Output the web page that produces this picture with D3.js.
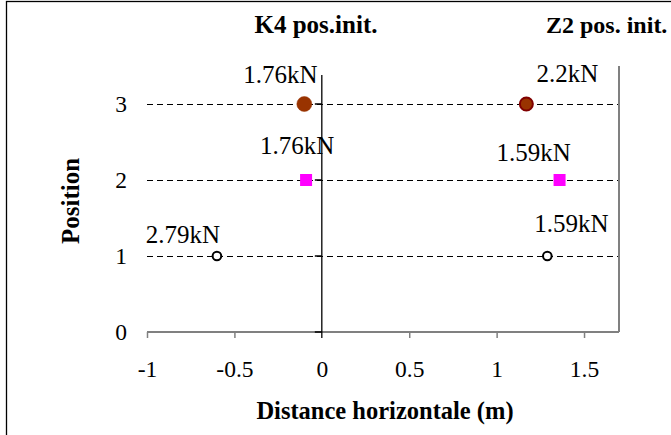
<!DOCTYPE html>
<html>
<head>
<meta charset="utf-8">
<script src="https://cdn.jsdelivr.net/npm/d3@7"></script>
<style>
  html, body { margin: 0; padding: 0; background: #fff; }
  svg { display: block; }
  svg text { font-family: "Liberation Serif", "Times New Roman", serif !important; fill: #000; }
</style>
</head>
<body>
<svg id="chart" width="671" height="435" font-family="Liberation Serif, serif"></svg>
<script>
// Measured positions (one series per position level)
const positions = [1, 2, 3];
const k4Distance = [-0.6, -0.09, -0.1];
const k4Force = [2.79, 1.76, 1.76];
const z2Distance = [1.29, 1.36, 1.17];
const z2Force = [1.59, 1.59, 2.2];
const groupTitles = ["K4 pos.init.", "Z2 pos. init."];
const xTicks = [-1, -0.5, 0, 0.5, 1, 1.5];
const yTicks = [0, 1, 2, 3];
const xTitle = "Distance horizontale (m)";
const yTitle = "Position";

// Label nudges (px) for each force label: [K4, Z2] per position
const labelOffsets = [
  [[-34, -13], [24, -24]],
  [[-9, -26], [-26, -19]],
  [[-24, -21], [41, -22]]
];

const svg = d3.select("#chart");
const plotLeft = 147, plotRight = 619, plotTop = 66, plotBottom = 332;

const x = d3.scaleLinear().domain([-1, 1.7]).range([plotLeft, plotRight]);
const y = d3.scaleLinear().domain([0, 3.5]).range([plotBottom, plotTop]);

// Outer chart frame
svg.append("rect")
  .attr("x", 6.5).attr("y", 1.5)
  .attr("width", 700).attr("height", 500)
  .attr("fill", "none").attr("stroke", "#000").attr("stroke-width", 1.3);

// Dashed level lines
svg.append("g").attr("transform", "translate(0,0.5)")
  .selectAll("line")
  .data(positions)
  .join("line")
  .attr("x1", x(-1)).attr("x2", x(1.7))
  .attr("y1", d => y(d)).attr("y2", d => y(d))
  .attr("stroke", "#000").attr("stroke-width", 1)
  .attr("shape-rendering", "crispEdges")
  .attr("stroke-dasharray", "6,4");

// Right frame of the plot area
svg.append("line")
  .attr("x1", x(1.7)).attr("x2", x(1.7))
  .attr("y1", y(3.5)).attr("y2", y(0))
  .attr("stroke", "#808080").attr("stroke-width", 2);

// X axis (grey, ticks downward)
const xAxis = d3.axisBottom(x)
  .tickValues(xTicks)
  .tickSize(6)
  .tickFormat(d => d3.format("")(d).replace("−", "-"));
const gx = svg.append("g").attr("transform", `translate(0,${y(0)})`).call(xAxis)
  .attr("font-family", null).attr("font-size", null);
gx.select(".domain").remove();
gx.append("line").attr("x1", x(-1)).attr("x2", x(1.7)).attr("y1", 0).attr("y2", 0)
  .attr("stroke", "#808080").attr("stroke-width", 2);
gx.selectAll(".tick line").attr("stroke", "#808080").attr("stroke-width", 1.5)
  .attr("display", d => d === 0 ? "none" : null);
gx.selectAll(".tick text")
  .attr("y", 45).attr("dy", 0)
  .style("font-size", "23.5px")
  .attr("fill", "#000");

// Y axis line at x = 0 (black) with small ticks to the left
const gy = svg.append("g");
gy.append("line")
  .attr("x1", x(0)).attr("x2", x(0))
  .attr("y1", y(3.38)).attr("y2", y(0) + 6)
  .attr("stroke", "#000").attr("stroke-width", 1.3);
gy.selectAll(".ytick")
  .data(yTicks)
  .join("line")
  .attr("class", "ytick")
  .attr("x1", x(0) - 7).attr("x2", x(0))
  .attr("y1", d => y(d)).attr("y2", d => y(d))
  .attr("stroke", "#000").attr("stroke-width", 1.5);

// Y tick labels sit at the left edge of the plot
svg.append("g").selectAll("text")
  .data(yTicks)
  .join("text")
  .attr("x", 121).attr("y", d => y(d) + 8)
  .attr("text-anchor", "middle")
  .style("font-size", "23.5px")
  .text(d => d);

// Points: one marker style per position level
const points = [];
positions.forEach((p, i) => {
  points.push({ pos: p, level: i, dist: k4Distance[i], force: k4Force[i], off: labelOffsets[i][0], group: 0 });
  points.push({ pos: p, level: i, dist: z2Distance[i], force: z2Force[i], off: labelOffsets[i][1], group: 1 });
});

const gPts = svg.append("g");
points.forEach(d => {
  const cx = x(d.dist), cy = y(d.pos);
  if (d.level === 0) {
    gPts.append("circle").attr("cx", cx).attr("cy", cy).attr("r", 4.3)
      .attr("fill", "#fff").attr("stroke", "#000").attr("stroke-width", 2);
  } else if (d.level === 1) {
    gPts.append("rect").attr("x", cx - 6).attr("y", cy - 6)
      .attr("width", 12).attr("height", 12).attr("fill", "#ff00ff");
  } else {
    gPts.append("circle").attr("cx", cx).attr("cy", cy).attr("r", d.group === 0 ? 7.5 : 6.5)
      .attr("fill", "#993300")
      .attr("stroke", d.group === 0 ? "#993300" : "#800000")
      .attr("stroke-width", d.group === 0 ? 0.5 : 2);
  }
});

// Force labels
svg.append("g").selectAll("text")
  .data(points)
  .join("text")
  .attr("x", d => x(d.dist) + d.off[0])
  .attr("y", d => y(d.pos) + d.off[1])
  .attr("text-anchor", "middle")
  .style("font-size", "25px")
  .text(d => `${d.force}kN`);

// Group titles
svg.append("text")
  .attr("x", 316).attr("y", 33)
  .attr("text-anchor", "middle")
  .style("font-size", "25px").style("font-weight", "bold")
  .text(groupTitles[0]);
svg.append("text")
  .attr("x", 546).attr("y", 33)
  .attr("text-anchor", "start")
  .style("font-size", "24px").style("font-weight", "bold")
  .text(groupTitles[1]);

// Axis titles
svg.append("text")
  .attr("x", 385).attr("y", 419)
  .attr("text-anchor", "middle")
  .style("font-size", "24.5px").style("font-weight", "bold")
  .text(xTitle);
svg.append("text")
  .attr("transform", "translate(79,201) rotate(-90)")
  .attr("text-anchor", "middle")
  .style("font-size", "25px").style("font-weight", "bold")
  .text(yTitle);
</script>
</body>
</html>
